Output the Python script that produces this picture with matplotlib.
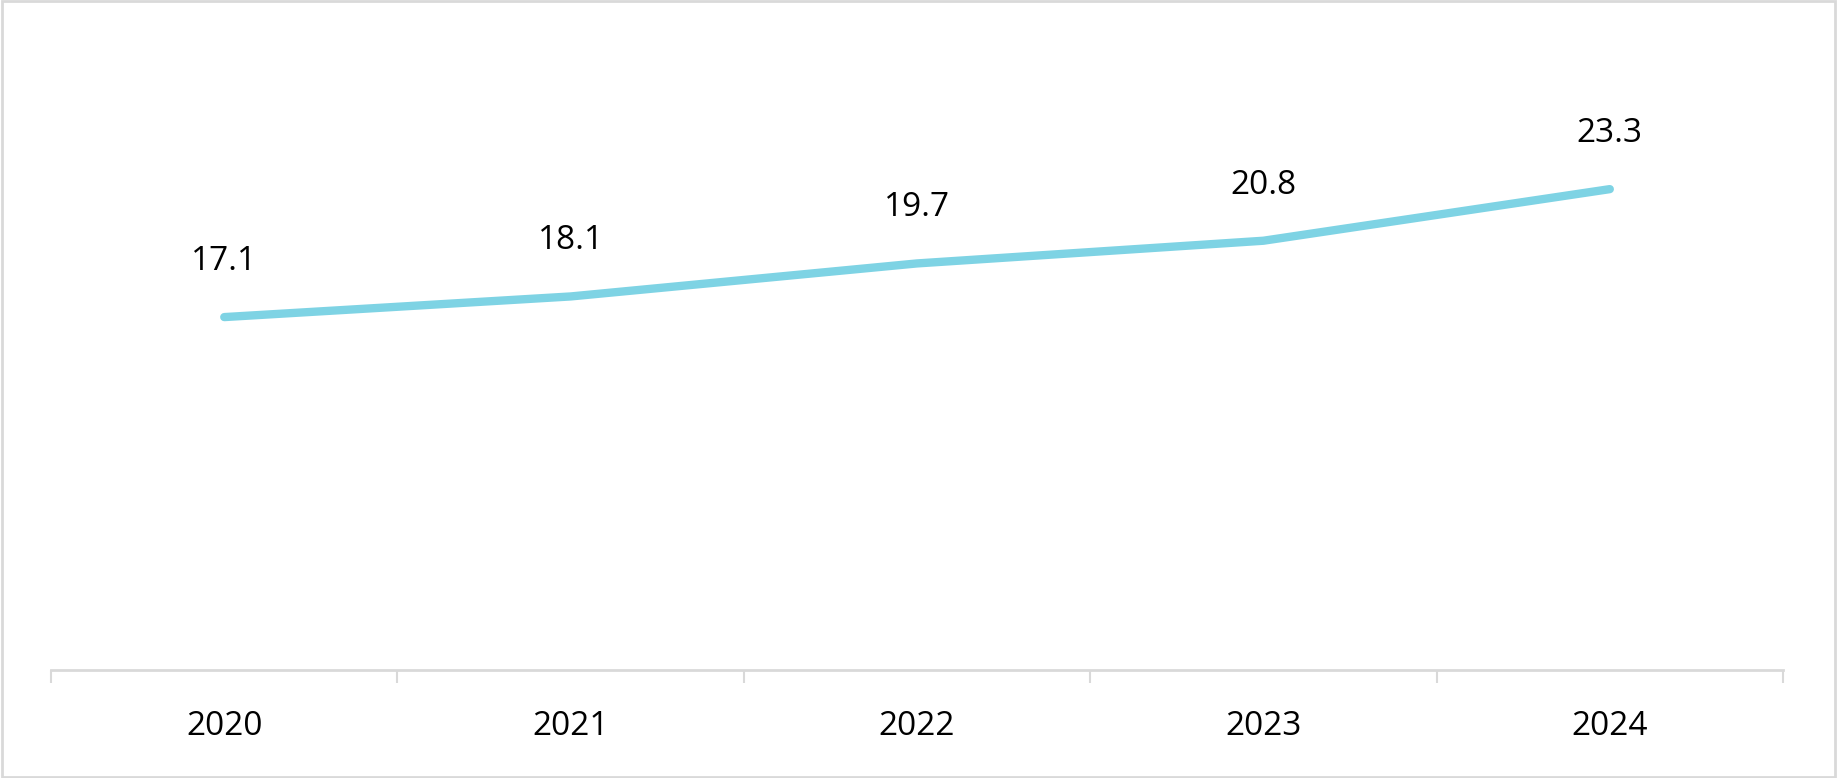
import matplotlib
matplotlib.use('Agg')
import matplotlib.pyplot as plt
from matplotlib.patches import Rectangle

years = ['2020', '2021', '2022', '2023', '2024']
values = [17.1, 18.1, 19.7, 20.8, 23.3]

plt.rcParams['font.family'] = ['Open Sans', 'DejaVu Sans']

fig = plt.figure(figsize=(18.37, 7.78), dpi=100)
ax = fig.add_axes([0.0278, 0.1388, 0.9428, 0.6632])

x = list(range(len(years)))
ax.plot(x, values, color='#7ED3E4', linewidth=6, solid_capstyle='round', solid_joinstyle='round')
for xi, v in zip(x, values):
    ax.annotate(f'{v:.1f}', (xi, v), xytext=(0, 40), textcoords='offset points',
                ha='center', va='center', fontsize=24, color='black')

ax.set_xlim(-0.5, len(years) - 0.5)
ax.set_ylim(0, 25)
ax.set_yticks([])
for s in ['top', 'right', 'left']:
    ax.spines[s].set_visible(False)
ax.spines['bottom'].set_color('#D9D9D9')
ax.spines['bottom'].set_linewidth(2)

ax.set_xticks([i - 0.5 for i in range(len(years) + 1)])
ax.set_xticklabels([])
ax.tick_params(axis='x', which='major', direction='out', length=9, width=1.5, color='#D9D9D9')
ax.set_xticks(x, minor=True)
ax.set_xticklabels(years, minor=True)
ax.tick_params(axis='x', which='minor', length=0, pad=29, labelsize=24)

fig.patches.append(Rectangle((0.001, 0.0015), 0.998, 0.997, transform=fig.transFigure,
                             fill=False, edgecolor='#D9D9D9', linewidth=2))

plt.savefig('out.png', dpi=100)
